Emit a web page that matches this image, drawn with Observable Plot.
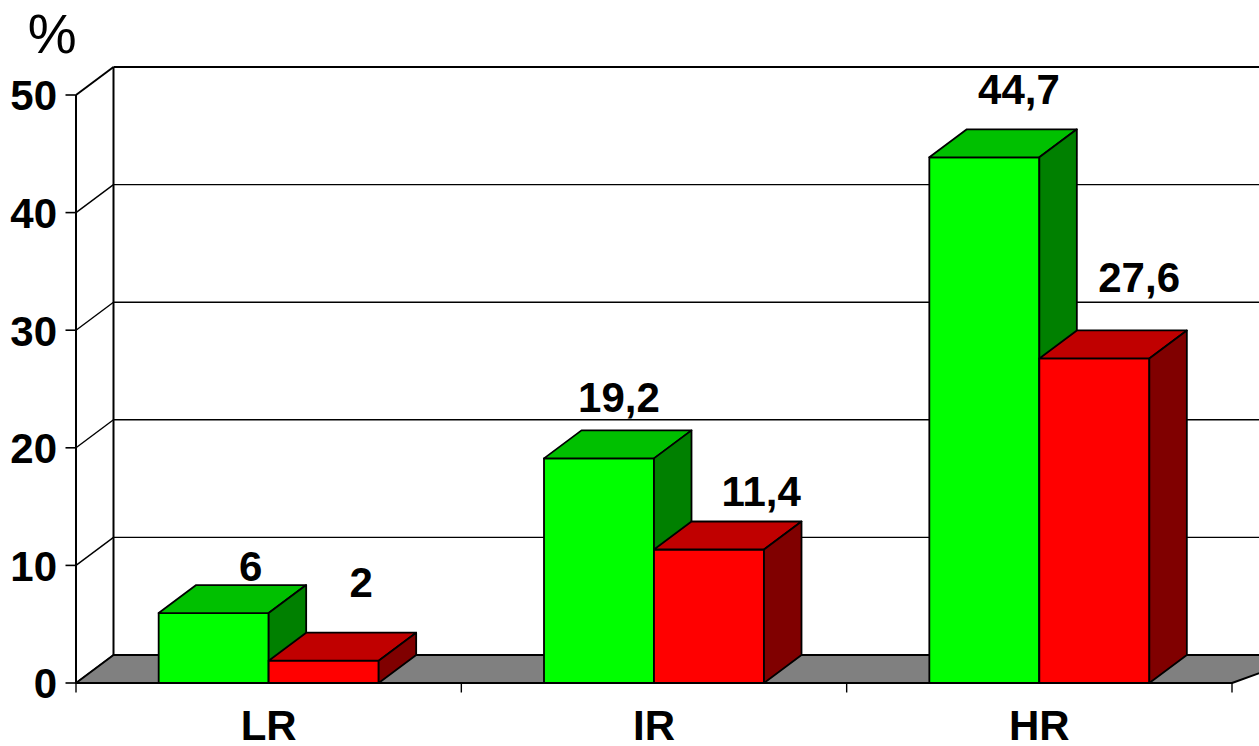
<!DOCTYPE html>
<html>
<head>
<meta charset="utf-8">
<script src="https://cdn.jsdelivr.net/npm/d3@7"></script>
<script src="https://cdn.jsdelivr.net/npm/@observablehq/plot@0.6"></script>
<style>html,body{margin:0;padding:0;background:#fff;overflow:hidden}svg{display:block}</style>
</head>
<body>
<div id="chart"></div>
<script>
const categories = ["LR", "IR", "HR"];
const green = [5.95, 19.1, 44.7];
const red = [1.9, 11.35, 27.6];
const greenLabels = ["6", "19,2", "44,7"];
const redLabels = ["2", "11,4", "27,6"];
const yTicks = [0, 10, 20, 30, 40, 50];
// label anchors, in axis units
const greenLabelX = [0.453, 1.409, 2.447];
const greenLabelY = [9.85, 24.2, 50.4];
const redLabelX = [0.74, 1.778, 2.759];
const redLabelY = [8.45, 16.2, 34.35];

const depthX = 37.5 / 385.33;
const depthY = 28 / 11.76;
const barW = 110 / 385.33;
const rightEdge = 3 + 0.2;

const palette = {
  green: {front: "#00ff00", top: "#00c000", side: "#008000"},
  red: {front: "#ff0000", top: "#c00000", side: "#800000"}
};

function poly(id, fill, pts) {
  return [...pts, pts[0]].map(([x, y]) => ({id, fill, x, y}));
}
function box(id, x0, x1, v, c) {
  return [
    ...poly(id + "f", c.front, [[x0, 0], [x1, 0], [x1, v], [x0, v]]),
    ...poly(id + "t", c.top, [[x0, v], [x1, v], [x1 + depthX, v + depthY], [x0 + depthX, v + depthY]]),
    ...poly(id + "s", c.side, [[x1, 0], [x1 + depthX, depthY], [x1 + depthX, v + depthY], [x1, v]])
  ];
}
const bars = categories.flatMap((c, i) => [
  ...box(c + "g", i + 0.5 - barW, i + 0.5, green[i], palette.green),
  ...box(c + "r", i + 0.5, i + 0.5 + barW, red[i], palette.red)
]);
const floor = poly("floor", "#808080", [[0, 0], [depthX, depthY], [rightEdge, depthY], [3, 0]]);
const labels = [
  ...categories.map((c, i) => ({x: greenLabelX[i], y: greenLabelY[i], t: greenLabels[i]})),
  ...categories.map((c, i) => ({x: redLabelX[i], y: redLabelY[i], t: redLabels[i]}))
];
const font = {fontFamily: "Liberation Sans, Arial, sans-serif"};

const chart = Plot.plot({
  width: 1259,
  height: 746,
  marginLeft: 75.5,
  marginRight: 27.5,
  marginTop: 94.5,
  marginBottom: 63.5,
  style: {background: "#fff", color: "#000", ...font, overflow: "hidden"},
  x: {domain: [0, 3], axis: null},
  y: {domain: [0, 50], axis: null},
  color: {type: "identity"},
  marks: [
    // back wall gridlines and diagonals
    Plot.link(yTicks, {x1: 0, y1: d => d, x2: depthX, y2: d => d + depthY, stroke: "#000", strokeWidth: d => d === 50 ? 2 : 1.4}),
    Plot.link(yTicks.filter(d => d > 0), {x1: depthX, y1: d => d + depthY, x2: rightEdge, y2: d => d + depthY, stroke: "#000", strokeWidth: d => d === 50 ? 2 : 1.4}),
    Plot.link([0], {x1: depthX, y1: depthY, x2: depthX, y2: 50 + depthY, stroke: "#000", strokeWidth: 2}),
    // floor
    Plot.line(floor, {x: "x", y: "y", z: "id", fill: "fill", stroke: "#000", strokeWidth: 2}),
    // y axis line and x axis line
    Plot.ruleX([0], {y1: 0, y2: 50, stroke: "#000", strokeWidth: 2}),
    Plot.ruleY([0], {x1: 0, x2: 3, stroke: "#000", strokeWidth: 2}),
    Plot.axisY({ticks: yTicks, tickSize: 10, tickFormat: () => "", label: null, strokeWidth: 1.6}),
    Plot.axisY({ticks: yTicks, tickSize: 0, tickPadding: 19, dy: 2, fontSize: 42, fontWeight: "bold", label: null}),
    Plot.axisX({ticks: [0, 1, 2, 3], tickSize: 10, tickFormat: () => "", label: null, strokeWidth: 1.4}),
    Plot.axisX({ticks: [0.5, 1.5, 2.5], tickSize: 0, tickPadding: 27, tickFormat: d => categories[Math.floor(d)], fontSize: 42, fontWeight: "bold", label: null}),
    // bars
    Plot.line(bars, {x: "x", y: "y", z: "id", fill: "fill", stroke: "#000", strokeWidth: 1.8, strokeLinejoin: "round"}),
    // value labels
    Plot.text(labels, {x: "x", y: "y", text: "t", fontSize: 42, fontWeight: "bold", fill: "#000"}),
    Plot.text(["%"], {x: -0.062, y: 55.08, text: d => d, fontSize: 55, fontWeight: "normal", fill: "#000"})
  ]
});
document.getElementById("chart").appendChild(chart);
</script>
</body>
</html>
